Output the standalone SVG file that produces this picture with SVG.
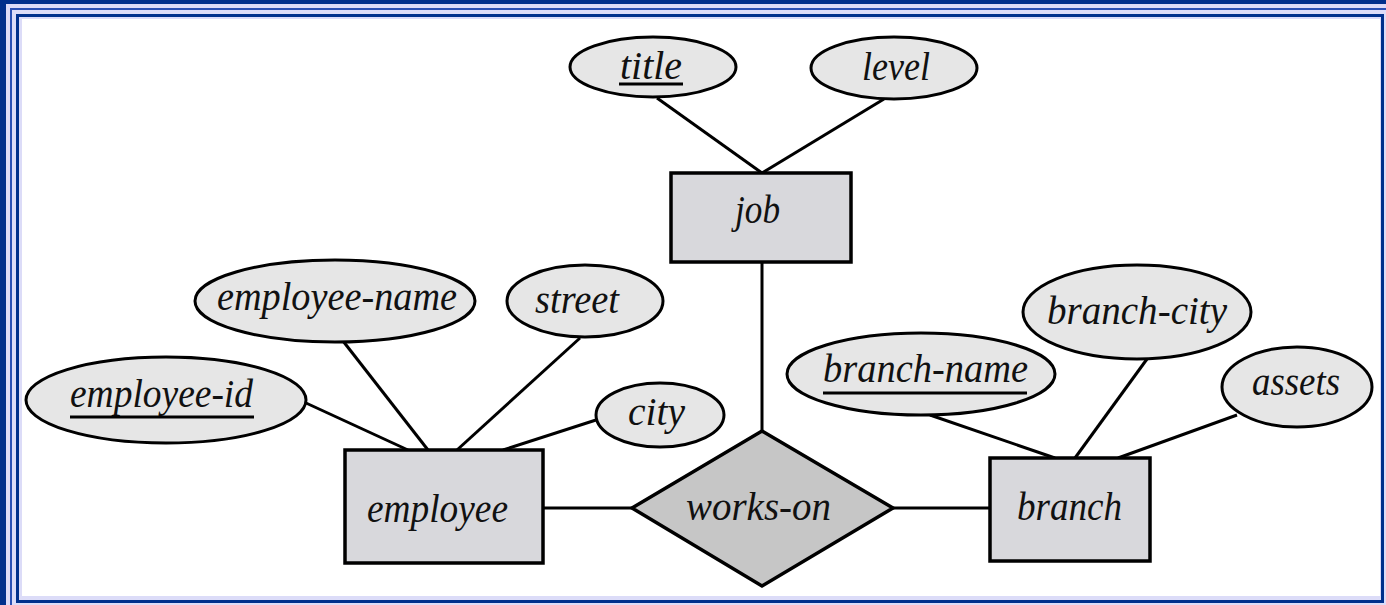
<svg xmlns="http://www.w3.org/2000/svg" width="1386" height="605" viewBox="0 0 1386 605">
<style>
.ent{fill:#d8d8dc;stroke:#000;stroke-width:3.5}
.att{fill:#e6e6e6;stroke:#000;stroke-width:3}
.rel{fill:#c6c6c6;stroke:#000;stroke-width:3.5}
.ln{stroke:#000;stroke-width:3;fill:none}
.ul{stroke:#000;stroke-width:3}
text{font-family:"Liberation Serif","DejaVu Serif",serif;font-style:italic;font-size:40px;fill:#111}
</style>
<g id="frame">
<rect x="0" y="0" width="1386" height="605" fill="#00308c"/>
<rect x="6" y="4" width="1390" height="610" fill="#dcdcf8"/>
<rect x="11" y="9" width="1390" height="610" fill="none" stroke="#2a50b4" stroke-width="2"/>
<rect x="17.5" y="15.5" width="1365" height="586" fill="#dcdcf8" stroke="#00308c" stroke-width="3"/>
<rect x="22" y="19" width="1358" height="577" fill="#ffffff"/>
</g>
<g id="connectors">
<line class="ln" x1="657" y1="98" x2="762" y2="173"/>
<line class="ln" x1="884" y1="99" x2="762" y2="173"/>
<line class="ln" x1="762" y1="262" x2="762" y2="431"/>
<line class="ln" x1="306" y1="403" x2="408" y2="450"/>
<line class="ln" x1="343" y1="341" x2="428" y2="450"/>
<line class="ln" x1="580" y1="338" x2="457" y2="450"/>
<line class="ln" x1="596" y1="420" x2="503" y2="450"/>
<line class="ln" x1="543" y1="508" x2="632" y2="508"/>
<line class="ln" x1="893" y1="508" x2="990" y2="508"/>
<line class="ln" x1="930" y1="415" x2="1055" y2="458"/>
<line class="ln" x1="1147" y1="359" x2="1075" y2="458"/>
<line class="ln" x1="1237" y1="415" x2="1118" y2="458"/>
</g>
<g id="job">
<rect class="ent" x="671" y="173" width="180" height="89"/>
<text x="735" y="223" textLength="45" lengthAdjust="spacingAndGlyphs">job</text>
</g>
<g id="title">
<ellipse class="att" cx="653" cy="67" rx="83" ry="30"/>
<text x="620" y="79" textLength="62" lengthAdjust="spacingAndGlyphs">title</text>
<line class="ul" x1="619" y1="84" x2="683" y2="84"/>
</g>
<g id="level">
<ellipse class="att" cx="894" cy="68" rx="83" ry="31"/>
<text x="862" y="80" textLength="68" lengthAdjust="spacingAndGlyphs">level</text>
</g>
<g id="employee">
<rect class="ent" x="345" y="450" width="198" height="113"/>
<text x="367" y="522" textLength="141" lengthAdjust="spacingAndGlyphs">employee</text>
</g>
<g id="employee-id">
<ellipse class="att" cx="166" cy="400" rx="140" ry="43"/>
<text x="70" y="407" textLength="183" lengthAdjust="spacingAndGlyphs">employee-id</text>
<line class="ul" x1="70" y1="417" x2="254" y2="417"/>
</g>
<g id="employee-name">
<ellipse class="att" cx="335" cy="301" rx="140" ry="41"/>
<text x="217" y="310" textLength="240" lengthAdjust="spacingAndGlyphs">employee-name</text>
</g>
<g id="street">
<ellipse class="att" cx="585" cy="301" rx="78" ry="36"/>
<text x="535" y="313" textLength="84" lengthAdjust="spacingAndGlyphs">street</text>
</g>
<g id="city">
<ellipse class="att" cx="660" cy="415" rx="64" ry="32"/>
<text x="628" y="425" textLength="57" lengthAdjust="spacingAndGlyphs">city</text>
</g>
<g id="works-on">
<polygon class="rel" points="762,431 893,508 762,586 632,508"/>
<text x="686" y="520" textLength="145" lengthAdjust="spacingAndGlyphs">works-on</text>
</g>
<g id="branch">
<rect class="ent" x="990" y="458" width="160" height="103"/>
<text x="1017" y="520" textLength="105" lengthAdjust="spacingAndGlyphs">branch</text>
</g>
<g id="branch-name">
<ellipse class="att" cx="921" cy="374" rx="134" ry="41"/>
<text x="823" y="382" textLength="205" lengthAdjust="spacingAndGlyphs">branch-name</text>
<line class="ul" x1="823" y1="393" x2="1027" y2="393"/>
</g>
<g id="branch-city">
<ellipse class="att" cx="1137" cy="312" rx="114" ry="47"/>
<text x="1047" y="324" textLength="180" lengthAdjust="spacingAndGlyphs">branch-city</text>
</g>
<g id="assets">
<ellipse class="att" cx="1297" cy="387" rx="75" ry="40"/>
<text x="1252" y="395" textLength="88" lengthAdjust="spacingAndGlyphs">assets</text>
</g>
</svg>
